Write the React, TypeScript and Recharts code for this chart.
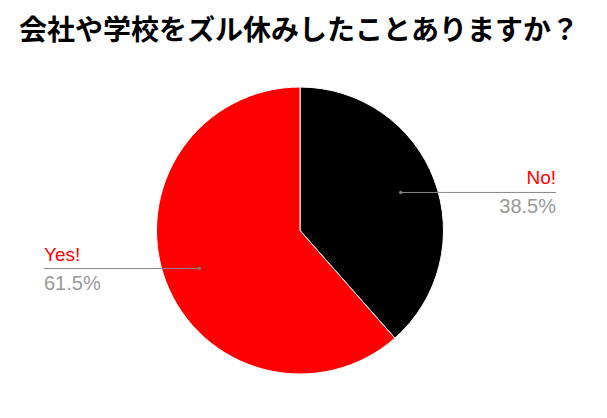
import React from "react";
import { PieChart, Pie, Cell } from "recharts";

const title = "会社や学校をズル休みしたことありますか？";
const categories = ["No!", "Yes!"];
const values = [38.5, 61.5];
const colors = ["#000000", "#ff0000"];

const data = categories.map((name, i) => ({ name, value: values[i] }));

const RADIAN = Math.PI / 180;

const renderLabel = (props: any) => {
  const { cx, cy, midAngle, outerRadius, name, value } = props;
  const cos = Math.cos(-midAngle * RADIAN);
  const sin = Math.sin(-midAngle * RADIAN);
  const r = outerRadius * 0.75;
  const x0 = cx + r * cos;
  const y0 = cy + r * sin;
  const right = cos >= 0;
  const x1 = right ? cx + 256 : cx - 256;
  const anchor = right ? "end" : "start";
  return (
    <g>
      <circle cx={x0} cy={y0} r={1.8} fill="#777777" />
      <line x1={x0} y1={y0} x2={x1} y2={y0} stroke="#888888" strokeWidth={1} />
      <text
        x={x1}
        y={y0 - 8}
        textAnchor={anchor}
        fill="#ff0000"
        fontSize={19}
        fontFamily="'Liberation Sans', Arial, sans-serif"
      >
        {name}
      </text>
      <text
        x={x1}
        y={y0 + 21}
        textAnchor={anchor}
        fill="#999999"
        fontSize={20}
        fontFamily="'Liberation Sans', Arial, sans-serif"
      >
        {Number(value).toFixed(1) + "%"}
      </text>
    </g>
  );
};

export default function App() {
  return (
    <div style={{ position: "absolute", left: 0, top: 0, width: 607, height: 418, background: "#fff" }}>
      <div
        style={{
          position: "absolute",
          left: 0,
          top: 9,
          width: 598,
          textAlign: "center",
          fontFamily: "'Noto Sans CJK JP', sans-serif",
          fontWeight: 700,
          fontSize: 28,
          lineHeight: "38px",
          color: "#000",
          whiteSpace: "nowrap",
        }}
      >
        {title}
      </div>
      <PieChart width={607} height={418} margin={{ top: 0, right: 0, bottom: 0, left: 0 }}>
        <Pie
          data={data}
          dataKey="value"
          nameKey="name"
          cx={300}
          cy={230.5}
          outerRadius={143.5}
          innerRadius={0}
          startAngle={90}
          endAngle={-270}
          stroke="#ffffff"
          strokeWidth={1}
          label={renderLabel}
          labelLine={false}
          isAnimationActive={false}
        >
          {data.map((d, i) => (
            <Cell key={d.name} fill={colors[i]} />
          ))}
        </Pie>
      </PieChart>
    </div>
  );
}
